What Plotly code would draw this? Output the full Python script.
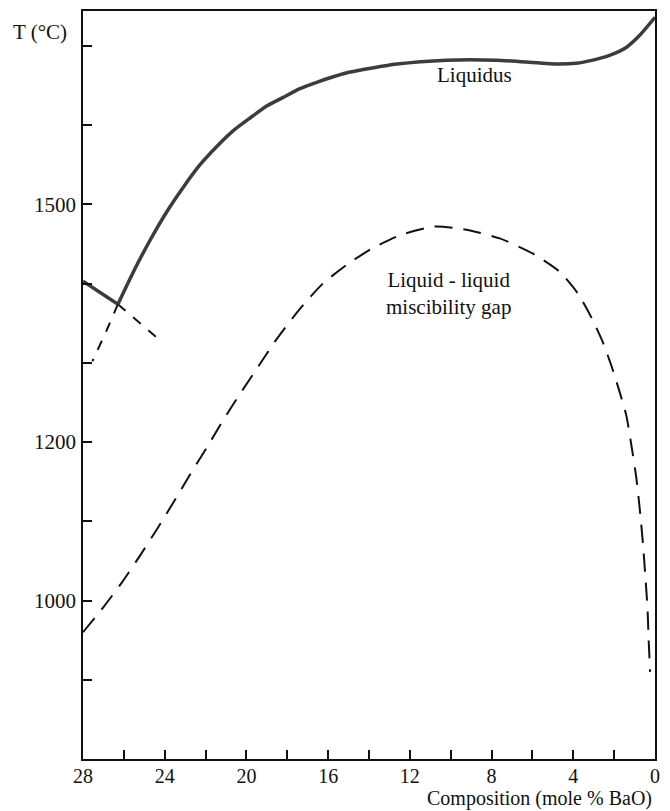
import plotly.graph_objects as go

# Liquidus (solid) - left branch and main branch, composition in mole % BaO, T in °C
liq_left_x = [28.0, 26.29]
liq_left_t = [1403, 1374]

liq_x = [26.29, 25.53, 24.71, 23.89, 23.08, 22.27, 21.45, 20.64, 19.82, 19.01, 18.20, 17.38, 16.56,
         15.75, 14.93, 12.65, 10.21, 7.77, 4.83, 3.86, 3.04, 2.23, 1.41, 0.76, 0.0]
liq_t = [1374, 1415, 1455, 1491, 1522, 1550, 1573, 1593, 1609, 1624, 1635, 1646, 1654,
         1661, 1667, 1677, 1682, 1682, 1677, 1678, 1682, 1688, 1698, 1713, 1736]

# Metastable extensions of the liquidus (dashed)
ext1_x = [26.29, 26.86, 27.54]
ext1_t = [1374, 1340, 1302]
ext2_x = [26.29, 24.17]
ext2_t = [1374, 1327]

# Liquid-liquid miscibility gap (dashed)
gap_x = [28.0, 26.99, 26.09, 25.20, 24.38, 23.57, 22.76, 21.94, 21.13, 20.31, 19.48, 18.60, 17.48,
         16.30, 15.08, 13.80, 12.49, 10.78, 9.23, 7.60, 5.99, 4.67, 3.79, 3.11, 2.57, 2.13, 1.74,
         1.40, 1.15, 0.91, 0.74, 0.59, 0.47, 0.37, 0.31, 0.24]
gap_t = [960, 992, 1023, 1057, 1090, 1124, 1159, 1193, 1228, 1261, 1293, 1327, 1365,
         1399, 1424, 1445, 1461, 1472, 1468, 1457, 1438, 1415, 1388, 1357, 1327, 1296, 1264,
         1233, 1195, 1154, 1114, 1072, 1029, 992, 950, 910]

x_tickvals = list(range(0, 29, 2))
x_ticktext = [str(v) if v % 4 == 0 else "" for v in x_tickvals]
y_tickvals = list(range(900, 1701, 100))
y_labelled = [1000, 1200, 1500]
y_ticktext = [str(v) if v in y_labelled else "" for v in y_tickvals]

FONT = "Liberation Serif, Times New Roman, serif"

fig = go.Figure()
fig.add_trace(go.Scatter(x=gap_x, y=gap_t, mode="lines",
                         line=dict(color="#111111", width=2, dash="18px,11px", shape="spline", smoothing=0.6),
                         hoverinfo="skip"))
fig.add_trace(go.Scatter(x=ext1_x, y=ext1_t, mode="lines",
                         line=dict(color="#111111", width=2, dash="10px,10px"), hoverinfo="skip"))
fig.add_trace(go.Scatter(x=ext2_x, y=ext2_t, mode="lines",
                         line=dict(color="#111111", width=2, dash="10px,10px"), hoverinfo="skip"))
fig.add_trace(go.Scatter(x=liq_left_x, y=liq_left_t, mode="lines",
                         line=dict(color="#3c3c3c", width=3.5), hoverinfo="skip"))
fig.add_trace(go.Scatter(x=liq_x, y=liq_t, mode="lines",
                         line=dict(color="#3c3c3c", width=3.5, shape="spline", smoothing=0.6),
                         hoverinfo="skip"))

fig.update_layout(
    width=662, height=803,
    margin=dict(l=75, r=15, t=1, b=52),
    paper_bgcolor="white", plot_bgcolor="white",
    showlegend=False,
    font=dict(family=FONT, size=21, color="#111111"),
    xaxis=dict(range=[28, 0], tickvals=x_tickvals, ticktext=x_ticktext,
               ticks="inside", ticklen=9, tickwidth=1.5, tickcolor="#111111",
               showline=True, linecolor="#111111", linewidth=1.5, mirror=True,
               showgrid=False, zeroline=False, tickfont=dict(size=20),
               ticklabelstandoff=-2),
    yaxis=dict(range=[800, 1744], tickvals=y_tickvals, ticktext=y_ticktext,
               ticks="inside", ticklen=9, tickwidth=1.5, tickcolor="#111111",
               showline=True, linecolor="#111111", linewidth=1.5, mirror=True,
               showgrid=False, zeroline=False, tickfont=dict(size=21),
               ticklabelstandoff=1),
    annotations=[
        dict(text="T (°C)", xref="paper", yref="paper", x=0, y=0.972,
             xanchor="right", yanchor="middle", xshift=-14, showarrow=False,
             font=dict(size=21)),
        dict(text="Composition (mole % BaO)", xref="paper", yref="paper", x=1, y=0,
             xanchor="right", yanchor="bottom", yshift=-52, xshift=-2, showarrow=False,
             borderpad=0, font=dict(size=20)),
        dict(text="Liquidus", x=8.83, y=1663, xanchor="center", yanchor="middle",
             showarrow=False, font=dict(size=21)),
        dict(text="Liquid - liquid<br>miscibility gap", x=10.1, y=1387,
             xanchor="center", yanchor="middle", showarrow=False, font=dict(size=21)),
    ],
)

fig.write_html("out.html")
